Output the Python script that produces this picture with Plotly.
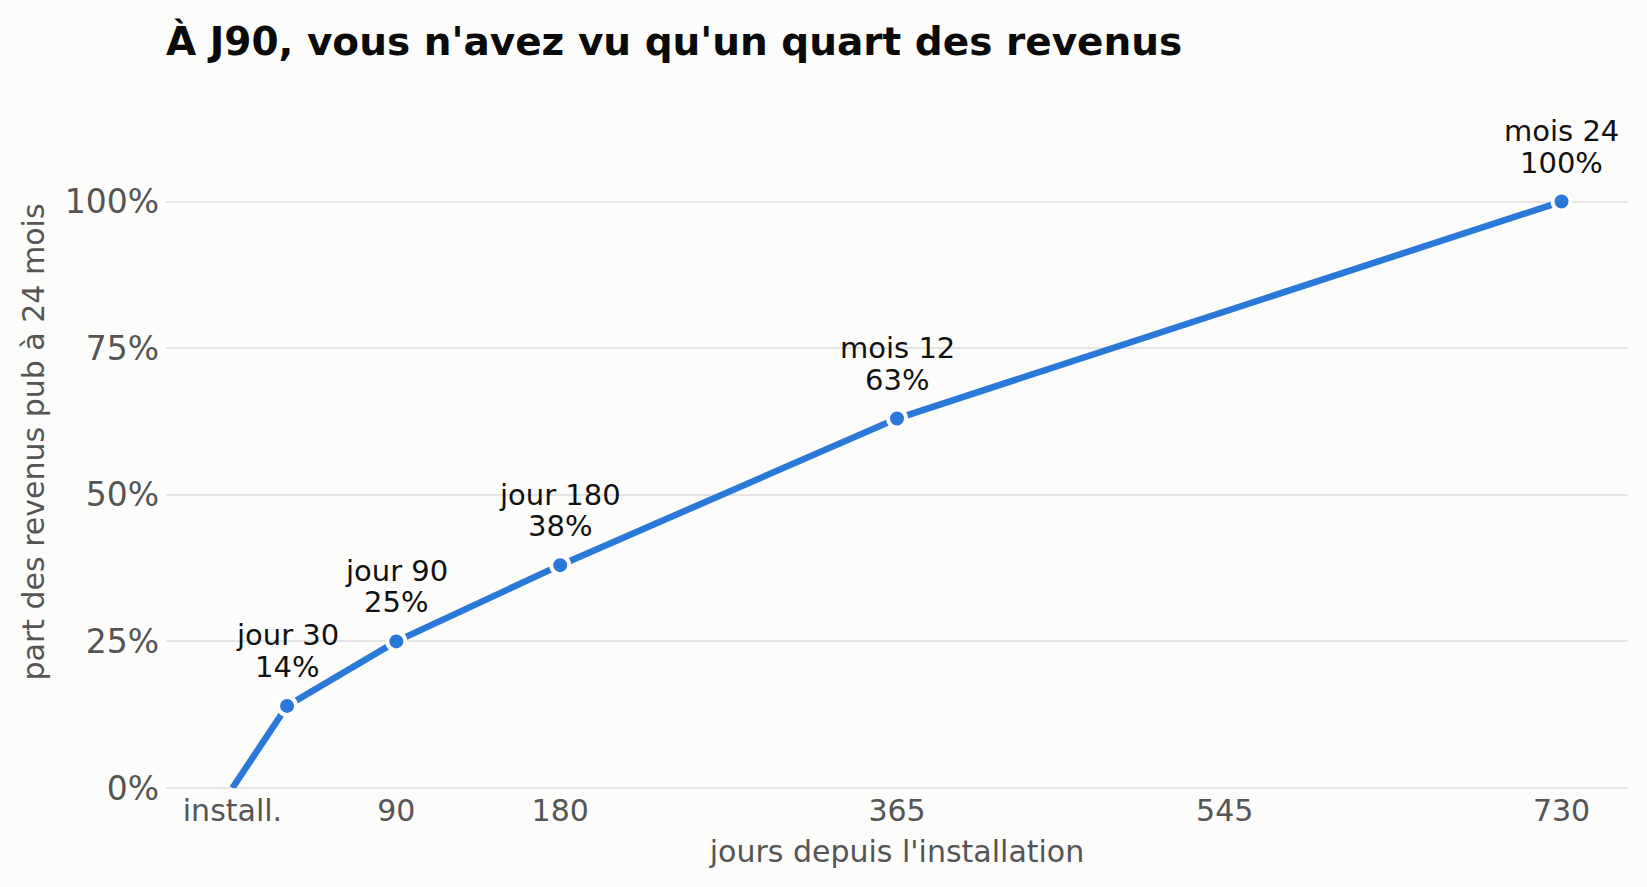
import plotly.graph_objects as go

# ---- data ----
days = [0, 30, 90, 180, 365, 730]
share = [0.0, 0.14, 0.25, 0.38, 0.63, 1.00]
point_labels = ["", "jour 30", "jour 90", "jour 180", "mois 12", "mois 24"]
pct_labels = ["", "14%", "25%", "38%", "63%", "100%"]
x_tickvals = [0, 90, 180, 365, 545, 730]
x_ticktext = ["install.", "90", "180", "365", "545", "730"]
y_tickvals = [0, 0.25, 0.5, 0.75, 1.0]
y_ticktext = ["0%", "25%", "50%", "75%", "100%"]

title = "<b>À J90, vous n'avez vu qu'un quart des revenus</b>"
x_title = "jours depuis l'installation"
y_title = "part des revenus pub à 24 mois"

BLUE = "#2a78d8"
BG = "#fcfcfa"
GRID = "#e4e4e4"
FONT = "DejaVu Sans"

fig = go.Figure()
fig.add_trace(go.Scatter(
    x=days, y=share, mode="lines",
    line=dict(color=BLUE, width=6.5),
    hoverinfo="skip", showlegend=False,
))
fig.add_trace(go.Scatter(
    x=days[1:], y=share[1:], mode="markers",
    marker=dict(color=BLUE, size=18, line=dict(color="white", width=4)),
    hoverinfo="skip", showlegend=False,
))

for d, s, lab, pct in zip(days, share, point_labels, pct_labels):
    if not lab:
        continue
    fig.add_annotation(x=d, y=s, text=pct, showarrow=False, xanchor="center",
                       yanchor="bottom", yshift=20,
                       font=dict(family=FONT, size=29, color="#111111"))
    fig.add_annotation(x=d, y=s, text=lab, showarrow=False, xanchor="center",
                       yanchor="bottom", yshift=51.5,
                       font=dict(family=FONT, size=29, color="#111111"))

fig.update_layout(
    width=1647, height=887,
    margin=dict(l=166, r=19, t=96, b=99),
    paper_bgcolor=BG, plot_bgcolor=BG,
    font=dict(family=FONT, color="#555555"),
    title=dict(text=title, x=0, xref="paper", xanchor="left",
               y=1 - 41 / 887, yref="container", yanchor="middle",
               font=dict(family=FONT, size=39, color="#0a0a0a")),
    xaxis=dict(
        range=[-36.5, 766.5], tickvals=x_tickvals, ticktext=x_ticktext,
        showgrid=False, zeroline=False, showline=False, ticks="",
        ticklabelstandoff=2,
        tickfont=dict(family=FONT, size=30, color="#555555"),
        title=dict(text=x_title, font=dict(family=FONT, size=30, color="#555555"), standoff=13),
    ),
    yaxis=dict(
        range=[0, 1.18], tickvals=y_tickvals, ticktext=y_ticktext,
        showgrid=True, gridcolor=GRID, gridwidth=2,
        zeroline=True, zerolinecolor=GRID, zerolinewidth=2,
        showline=False, ticks="", ticklabelstandoff=6,
        tickfont=dict(family=FONT, size=33, color="#555555"),
        title=dict(text=y_title, font=dict(family=FONT, size=30, color="#555555"), standoff=11),
    ),
)

fig.write_html("out.html", config={"displayModeBar": False},
               post_script="document.body.style.margin='0';document.body.style.background='%s';" % BG)
